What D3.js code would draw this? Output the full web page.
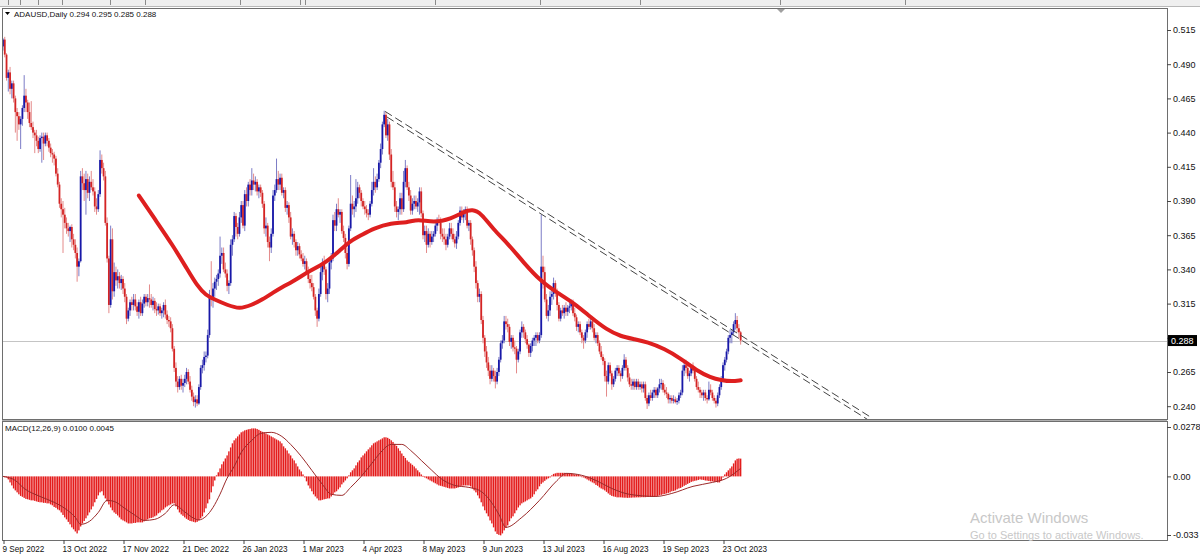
<!DOCTYPE html>
<html><head><meta charset="utf-8">
<script src="https://cdn.jsdelivr.net/npm/d3@7/dist/d3.min.js"></script>
<style>
body{margin:0;background:#fff;overflow:hidden}
svg{display:block}
text{font-family:"Liberation Sans",Arial,sans-serif;fill:#111}
</style>
</head><body>
<svg id="chart" width="1200" height="557"></svg>
<script>
// ---- DATA (prices in thousandths of USD, one candle per daily bar) ----
const openP=[503,508,497,480,484,472,476,465,455,452,
446,450,458,467,462,455,447,444,440,438,
434,428,436,437,432,438,434,429,425,424,
421,410,402,388,384,380,374,370,368,371,
362,358,352,342,346,408,403,398,406,396,
404,400,397,386,384,395,420,414,408,374,
348,314,362,324,338,332,335,330,333,326,
320,304,310,316,314,318,313,309,316,308,
315,320,316,319,318,314,317,311,310,313,
308,310,314,307,303,302,297,282,268,258,
254,260,255,257,260,265,258,252,247,243,
245,242,254,268,270,276,277,292,320,318,
326,331,333,337,350,352,340,337,328,330,
358,362,379,371,366,378,387,372,395,390,
402,398,405,402,404,397,400,396,388,370,
372,360,356,366,394,398,406,402,407,396,
398,385,387,378,364,366,360,354,357,351,
348,344,346,338,333,330,327,320,310,304,
322,338,344,340,322,326,345,348,376,372,
384,380,382,368,363,352,344,370,388,384,
386,392,400,396,390,386,384,381,380,388,
398,404,400,406,418,428,446,453,438,446,
424,404,400,386,382,384,392,384,404,414,
400,394,383,388,390,386,389,397,381,365,
368,358,366,360,364,366,372,376,374,366,
364,362,358,364,370,366,362,359,364,374,
383,378,382,384,372,374,362,354,342,330,
320,322,303,290,280,272,266,260,266,262,
258,265,274,286,288,302,300,298,287,290,
283,282,274,280,294,298,294,289,285,279,
284,288,290,292,288,292,342,338,318,306,
310,320,322,330,324,314,304,310,308,312,
309,312,313,316,308,305,298,300,294,290,
288,294,300,298,302,297,290,292,286,280,
276,273,262,258,270,264,256,260,266,268,
264,262,268,274,268,261,256,255,258,254,
258,254,256,253,256,246,242,248,246,250,
252,248,253,256,257,252,250,249,245,246,
244,245,243,244,248,250,266,270,268,262,
264,268,266,260,254,252,250,248,250,246,
245,252,250,246,244,242,248,254,260,270,
274,280,290,292,294,300,303,297,294];
const highP=[509,510,498,486,488,478,478,467,458,455,
452,460,482,472,464,462,463,448,442,442,
437,438,440,440,440,440,436,432,428,426,
423,414,404,392,390,385,378,374,372,373,
366,362,356,348,412,414,410,412,410,408,
412,406,400,392,398,427,424,418,412,378,
350,372,370,345,342,340,338,336,335,330,
322,312,318,320,322,322,316,318,320,318,
322,322,322,329,322,320,319,316,315,315,
312,316,318,310,306,305,300,284,272,262,
262,263,260,263,268,267,262,255,250,248,
248,256,270,274,280,280,296,325,346,330,
334,336,340,364,356,356,345,340,332,362,
365,382,381,374,382,390,390,398,400,404,
406,414,410,408,406,402,402,398,390,378,
374,364,370,398,402,421,412,410,410,400,
400,390,389,382,370,368,362,360,359,354,
352,350,348,342,336,336,330,322,312,326,
342,348,350,342,330,348,352,380,382,388,
392,384,384,372,366,356,372,409,394,390,
406,404,402,398,392,390,387,384,390,404,
414,408,410,420,432,448,456,455,450,448,
428,412,404,390,386,396,396,412,420,416,
404,398,392,394,394,392,400,400,383,372,
372,370,368,368,368,374,378,380,378,370,
370,366,366,374,374,370,366,368,376,386,
386,384,386,386,376,376,364,356,346,332,
326,324,306,292,284,276,270,270,268,266,
268,276,288,292,306,306,304,300,292,292,
288,284,282,296,302,300,296,292,286,286,
290,292,294,294,294,380,350,342,322,314,
324,326,334,332,326,316,312,314,314,316,
314,316,318,318,312,307,302,302,296,292,
296,302,304,306,304,300,294,294,288,284,
278,275,266,272,272,266,262,268,270,270,
266,270,278,276,270,264,260,260,260,260,
260,258,258,258,258,248,250,252,252,254,
254,254,260,260,259,256,254,250,248,248,
248,247,246,250,252,270,274,274,270,266,
270,272,268,262,258,254,252,252,252,248,
258,256,252,248,246,250,256,262,272,276,
282,292,296,296,302,308,306,300,295];
const lowP=[500,495,478,470,468,465,462,440,434,442,
428,445,455,455,450,444,442,436,425,430,
425,426,418,420,430,430,426,422,418,416,
408,400,385,378,352,370,366,364,360,356,
354,348,331,335,345,398,390,380,392,390,
398,394,382,380,382,393,410,405,372,345,
308,312,318,320,328,326,326,325,322,316,
300,302,306,310,310,310,306,304,306,306,
312,313,313,312,312,310,308,306,307,306,
304,305,304,300,298,294,280,265,254,250,
252,252,250,254,256,256,250,244,240,239,
240,241,252,264,266,272,275,290,313,312,
320,325,328,334,344,338,334,324,322,328,
350,360,364,362,364,374,370,368,386,386,
394,394,398,397,394,392,393,385,366,364,
356,346,352,364,390,396,398,398,394,392,
382,380,374,362,358,356,350,350,348,346,
342,340,336,330,326,324,318,306,298,302,
320,332,336,318,316,322,340,346,368,368,
378,374,366,360,348,340,342,368,380,378,
382,388,392,386,384,380,378,376,378,386,
394,396,398,404,414,424,444,436,434,420,
400,398,382,378,376,380,380,382,400,398,
390,380,380,384,384,382,380,378,362,360,
352,356,356,358,360,364,368,372,362,360,
358,354,356,362,362,360,356,355,362,372,
376,374,376,370,368,358,350,338,326,316,
316,300,286,276,268,262,256,258,258,253,
256,262,272,282,286,296,294,284,282,280,
278,264,272,278,290,290,286,282,276,276,
280,284,284,286,286,290,326,316,304,302,
306,314,318,320,310,302,302,306,304,306,
306,308,310,306,302,295,294,292,286,282,
286,290,296,296,294,288,286,284,278,274,
270,258,247,256,262,252,254,258,262,262,
258,260,266,266,258,254,252,252,252,252,
252,252,250,250,244,238,240,244,244,246,
246,246,250,252,250,248,246,242,242,242,
242,242,241,242,246,248,262,264,260,258,
262,264,258,252,250,246,246,244,244,242,
244,248,244,242,239,240,246,252,258,266,
272,278,286,286,292,296,294,290,285];
const closeP=[508,497,480,484,472,476,465,455,452,446,
450,458,467,462,455,447,444,440,438,434,
428,436,437,432,438,434,429,425,424,421,
410,402,388,384,380,374,370,368,371,362,
358,352,342,346,408,403,398,406,396,404,
400,397,386,384,395,420,414,408,374,348,
314,362,324,338,332,335,330,333,326,320,
304,310,316,314,318,313,309,316,308,315,
320,316,319,318,314,317,311,310,313,308,
310,314,307,303,302,297,282,268,258,254,
260,255,257,260,265,258,252,247,243,245,
242,254,268,270,276,277,292,320,318,326,
331,333,337,350,352,340,337,328,330,358,
362,379,371,366,378,387,372,395,390,402,
398,405,402,404,397,400,396,388,370,372,
360,356,366,394,398,406,402,407,396,398,
385,387,378,364,366,360,354,357,351,348,
344,346,338,333,330,327,320,310,304,322,
338,344,340,322,326,345,348,376,372,384,
380,382,368,363,352,344,370,388,384,386,
392,400,396,390,386,384,381,380,388,398,
404,400,406,418,428,446,453,438,446,424,
404,400,386,382,384,392,384,404,414,400,
394,383,388,390,386,389,397,381,365,368,
358,366,360,364,366,372,376,374,366,364,
362,358,364,370,366,362,359,364,374,383,
378,382,384,372,374,362,354,342,330,320,
322,303,290,280,272,266,260,266,262,258,
265,274,286,288,302,300,298,287,290,283,
282,274,280,294,298,294,289,285,279,284,
288,290,292,288,292,342,338,318,306,310,
320,322,330,324,314,304,310,308,312,309,
312,313,316,308,305,298,300,294,290,288,
294,300,298,302,297,290,292,286,280,276,
273,262,258,270,264,256,260,266,268,264,
262,268,274,268,261,256,255,258,254,258,
254,256,253,256,246,242,248,246,250,252,
248,253,256,257,252,250,249,245,246,244,
245,243,244,248,250,266,270,268,262,264,
268,266,260,254,252,250,248,250,246,245,
252,250,246,244,242,248,254,260,270,274,
280,290,292,294,300,303,297,294,288];
// MACD(12,26,9) main values, in units of 0.0001, one per bar
const macdVals=[2,-5,-6,-17,-34,-51,-68,-79,-90,-101,
-110,-115,-121,-127,-129,-132,-135,-135,-138,-141,
-144,-146,-146,-149,-149,-152,-152,-158,-163,-172,
-177,-186,-191,-203,-217,-231,-242,-256,-270,-287,
-298,-310,-321,-304,-282,-265,-251,-236,-220,-203,
-186,-169,-146,-127,-107,-90,-84,-107,-124,-141,
-158,-175,-191,-203,-211,-220,-231,-242,-248,-253,
-259,-265,-265,-265,-262,-262,-259,-259,-259,-259,
-253,-248,-242,-236,-234,-231,-225,-220,-208,-203,
-191,-186,-175,-169,-163,-158,-152,-152,-169,-186,
-203,-214,-222,-231,-239,-245,-251,-253,-256,-259,
-256,-248,-236,-225,-203,-180,-152,-129,-90,-56,
-23,6,23,45,68,84,101,118,141,163,
186,203,214,225,236,248,253,259,262,265,
267,270,270,270,267,262,256,251,248,242,
236,231,225,220,214,208,203,197,186,169,
158,146,129,118,101,90,73,56,39,28,
11,-6,-28,-51,-68,-84,-101,-113,-124,-135,
-135,-132,-129,-127,-124,-124,-113,-101,-90,-84,
-73,-62,-45,-34,-23,-11,6,23,34,45,
62,79,90,107,118,129,141,152,163,175,
186,191,197,203,208,214,220,220,217,211,
203,194,183,172,158,144,129,115,104,90,
82,73,65,56,45,34,23,11,3,-6,
-11,-17,-23,-28,-34,-39,-45,-51,-53,-56,
-59,-62,-65,-68,-68,-68,-68,-65,-62,-56,
-53,-51,-51,-51,-51,-56,-68,-79,-90,-107,
-124,-146,-169,-191,-208,-225,-248,-265,-287,-310,
-324,-329,-332,-321,-304,-290,-276,-253,-236,-225,
-208,-191,-175,-163,-152,-146,-141,-135,-129,-124,
-115,-101,-84,-73,-56,-42,-34,-25,-17,-11,
-6,6,14,17,20,20,20,20,20,17,
17,17,17,14,11,11,8,6,-2,-6,
-11,-17,-23,-28,-34,-39,-48,-53,-62,-68,
-73,-79,-87,-96,-104,-110,-113,-115,-118,-118,
-118,-119,-120,-120,-121,-120,-120,-119,-119,-118,
-118,-118,-117,-117,-117,-116,-116,-116,-116,-116,
-113,-110,-107,-104,-101,-99,-96,-93,-90,-84,
-82,-79,-73,-68,-65,-59,-53,-48,-42,-37,
-31,-28,-25,-23,-20,-17,-19,-20,-23,-24,
-26,-28,-28,-31,-31,-34,-34,-23,-6,11,
23,34,45,56,73,90,99,101,100];
// MACD signal line, sampled (bar index, value in 0.0001)
const signalBars=[0,7,12,21,29,35,41,44,49,54,59,63,69,75,80,86,92,97,103,108,111,115,119,123,127,131,135,141,146,152,158,163,169,175,181,186,192,197,203,209,214,220,226,231,237,243,248,256,264,270,276,281,285,294,304,314,319,328,336,345,355,370,379,391,402,410,418];
const signalVals=[0,-23,-68,-113,-146,-180,-231,-270,-253,-203,-135,-141,-180,-220,-248,-242,-208,-160,-200,-235,-245,-225,-175,-100,-10,56,135,203,242,248,225,180,113,34,-45,-101,-107,-62,0,73,135,180,180,146,90,34,-11,-51,-62,-79,-135,-214,-287,-231,-135,-23,17,6,-23,-68,-101,-113,-96,-56,-34,-11,45];
// Moving average line, sampled (bar index, price in thousandths)
const maBars=[77,87,96,104,110,115,120,127,134,141,147,153,158,164,169,174,183,191,197,203,210,220,229,235,244,254,261,266,271,278,286,295,305,314,324,333,342,350,358,365,375,384,393,401,407,413,418];
const maVals=[394,375,358,341,328,321,318,314,311,314,318,323,327,331,335,339,345,354,361,365,370,374,374,377,374,377,382,384,381,369,359,345,331,323,315,305,296,291,289,287,282,275,266,261,259,258,259];
// Axis ticks
const priceTicks=[0.515,0.490,0.465,0.440,0.415,0.390,0.365,0.340,0.315,0.290,0.265,0.240];
const macdTicks=[0.0278,0,-0.033];
const macdTickLabels=["0.0278","0.00","-0.033"];
const dateTickBars=[0,34,68,102,136,170,204,238,272,306,340,374,408];
const dateTickLabels=["9 Sep 2022","13 Oct 2022","17 Nov 2022","21 Dec 2022","26 Jan 2023","1 Mar 2023","4 Apr 2023","8 May 2023","9 Jun 2023","13 Jul 2023","16 Aug 2023","19 Sep 2023","23 Oct 2023"];
const lastPrice=0.288;
const headerText="ADAUSD,Daily 0.294 0.295 0.285 0.288";
const macdText="MACD(12,26,9) 0.0100 0.0045";
// Trend lines (parallel pair): [bar, price] end points
const trendUpper=[[216.5,0.4555],[492.4,0.2314]];
const trendLower=[[217.5,0.4515],[495.2,0.2260]];

// ---- DRAWING ----
const svg=d3.select("#chart");
const W=1200,H=557;
const plotL=2,plotR=1167,mainT=8,mainB=419,macdT=421,macdB=540;
const x=d3.scaleLinear().domain([0,408]).range([3,723]);
const y=d3.scaleLinear().domain([0.240,0.515]).range([406.2,30]);
const ym=d3.scaleLinear().domain([-0.033,0.0278]).range([535,427]);

const defs=svg.append("defs");
defs.append("clipPath").attr("id","cm").append("rect").attr("x",plotL+1).attr("y",mainT+1).attr("width",plotR-plotL-1).attr("height",mainB-mainT-1);
defs.append("clipPath").attr("id","cd").append("rect").attr("x",plotL+1).attr("y",macdT+1).attr("width",plotR-plotL-1).attr("height",macdB-macdT-1);

svg.append("rect").attr("width",W).attr("height",H).attr("fill","#fff");
// toolbar strip
svg.append("rect").attr("x",0).attr("y",0).attr("width",W).attr("height",6).attr("fill","#efefef");
svg.append("line").attr("x1",0).attr("x2",W).attr("y1",6.5).attr("y2",6.5).attr("stroke","#b8b8b8");
[8,20,38,62,110,145,240,300,305,435,540,640,780,905].forEach(v=>{
  svg.append("line").attr("x1",v+0.5).attr("x2",v+0.5).attr("y1",0).attr("y2",5).attr("stroke","#8a8a8a");
});

// panel frames
svg.append("rect").attr("x",plotL+0.5).attr("y",mainT+0.5).attr("width",plotR-plotL).attr("height",mainB-mainT).attr("fill","none").attr("stroke","#6e6e6e");
svg.append("rect").attr("x",plotL+0.5).attr("y",macdT+0.5).attr("width",plotR-plotL).attr("height",macdB-macdT).attr("fill","none").attr("stroke","#6e6e6e");
svg.append("line").attr("x1",plotL).attr("x2",plotR).attr("y1",mainB+1.5).attr("y2",mainB+1.5).attr("stroke","#b0b0b0");
// chart shift marker
svg.append("path").attr("d","M777,9 L785,9 L781,13 Z").attr("fill","#a0a0a0");

const gm=svg.append("g").attr("clip-path","url(#cm)");
// last price line
gm.append("line").attr("x1",plotL).attr("x2",plotR).attr("y1",Math.round(y(lastPrice))+0.5).attr("y2",Math.round(y(lastPrice))+0.5).attr("stroke","#c4c4c4");

const idx=d3.range(closeP.length);
const up=i=>closeP[i]>=openP[i];
gm.append("g").selectAll("line").data(idx).join("line")
  .attr("x1",i=>x(i)).attr("x2",i=>x(i))
  .attr("y1",i=>y(highP[i]/1000)).attr("y2",i=>y(lowP[i]/1000))
  .attr("stroke",i=>up(i)?"#7c7cc6":"#e48a8a").attr("stroke-width",1);
gm.append("g").selectAll("rect").data(idx).join("rect")
  .attr("x",i=>x(i)-0.9).attr("width",1.8)
  .attr("y",i=>y(Math.max(openP[i],closeP[i])/1000))
  .attr("height",i=>Math.max(1,Math.abs(y(openP[i]/1000)-y(closeP[i]/1000))))
  .attr("fill",i=>up(i)?"#1818a8":"#d42424");

// moving average
gm.append("path").datum(d3.range(maBars.length))
  .attr("d",d3.line().x(k=>x(maBars[k])).y(k=>y(maVals[k]/1000)).curve(d3.curveBasis))
  .attr("fill","none").attr("stroke","#de1f1f").attr("stroke-width",4).attr("stroke-linecap","round");

// trend lines
[trendUpper,trendLower].forEach(t=>{
  gm.append("line").attr("x1",x(t[0][0])).attr("y1",y(t[0][1])).attr("x2",x(t[1][0])).attr("y2",y(t[1][1]))
    .attr("stroke","#444").attr("stroke-width",1).attr("stroke-dasharray","8,4");
});

// MACD panel
const gd=svg.append("g").attr("clip-path","url(#cd)");
gd.append("g").selectAll("rect").data(idx).join("rect")
  .attr("x",i=>x(i)-0.7).attr("width",1.4)
  .attr("y",i=>Math.min(ym(0),ym(macdVals[i]/10000)))
  .attr("height",i=>Math.max(0.8,Math.abs(ym(macdVals[i]/10000)-ym(0))))
  .attr("fill","#e41c1c");
gd.append("path").datum(d3.range(signalBars.length))
  .attr("d",d3.line().x(k=>x(signalBars[k])).y(k=>ym(signalVals[k]/10000)).curve(d3.curveMonotoneX))
  .attr("fill","none").attr("stroke","#9b2a2a").attr("stroke-width",1);

// price axis (the label hidden behind the last-price box is left blank)
const fmt3=d3.format(".3f");
const ax=svg.append("g").attr("transform",`translate(${plotR},0)`)
  .call(d3.axisRight(y).tickValues(priceTicks).tickSize(4).tickPadding(2)
    .tickFormat(d=>Math.abs(y(d)-y(lastPrice))<9?"":fmt3(d)));
ax.select(".domain").remove();
ax.selectAll("line").attr("stroke","#444");
ax.selectAll("text").attr("font-size",9).attr("fill","#222").attr("font-family","Liberation Sans, Arial");

// last price box
const ly=y(lastPrice);
svg.append("rect").attr("x",plotR+1).attr("y",ly-5.5).attr("width",29).attr("height",11).attr("fill","#000");
svg.append("text").attr("x",plotR+4).attr("y",ly+3.3).attr("font-size",9).style("fill","#fff").text(fmt3(lastPrice));

// macd axis
const axm=svg.append("g").attr("transform",`translate(${plotR},0)`)
  .call(d3.axisRight(ym).tickValues(macdTicks).tickSize(4).tickPadding(2).tickFormat((d,i)=>macdTickLabels[i]));
axm.select(".domain").remove();
axm.selectAll("line").attr("stroke","#444");
axm.selectAll("text").attr("font-size",9).attr("fill","#222").attr("font-family","Liberation Sans, Arial");

// date axis
const axd=svg.append("g").attr("transform",`translate(0,${macdB})`)
  .call(d3.axisBottom(x).tickValues(dateTickBars).tickSize(4).tickPadding(2).tickFormat((d,i)=>dateTickLabels[i]));
axd.select(".domain").remove();
axd.selectAll("line").attr("stroke","#444").attr("transform","translate(0.5,0)");
axd.selectAll("text").attr("font-size",8.2).attr("fill","#222").attr("text-anchor","start").attr("dx",-1).attr("font-family","Liberation Sans, Arial");

// header texts
svg.append("path").attr("d","M5,12 L10,12 L7.5,15 Z").attr("fill","#000");
svg.append("text").attr("x",14).attr("y",17).attr("font-size",8).text(headerText);
svg.append("text").attr("x",5).attr("y",431).attr("font-size",8).text(macdText);

// watermark
svg.append("text").attr("x",970).attr("y",523).attr("font-size",15).style("fill","#c8c8c8").attr("font-family","Liberation Sans, Arial").text("Activate Windows");
svg.append("text").attr("x",970).attr("y",539).attr("font-size",11).style("fill","#c8c8c8").attr("font-family","Liberation Sans, Arial").text("Go to Settings to activate Windows.");
</script>
</body></html>
